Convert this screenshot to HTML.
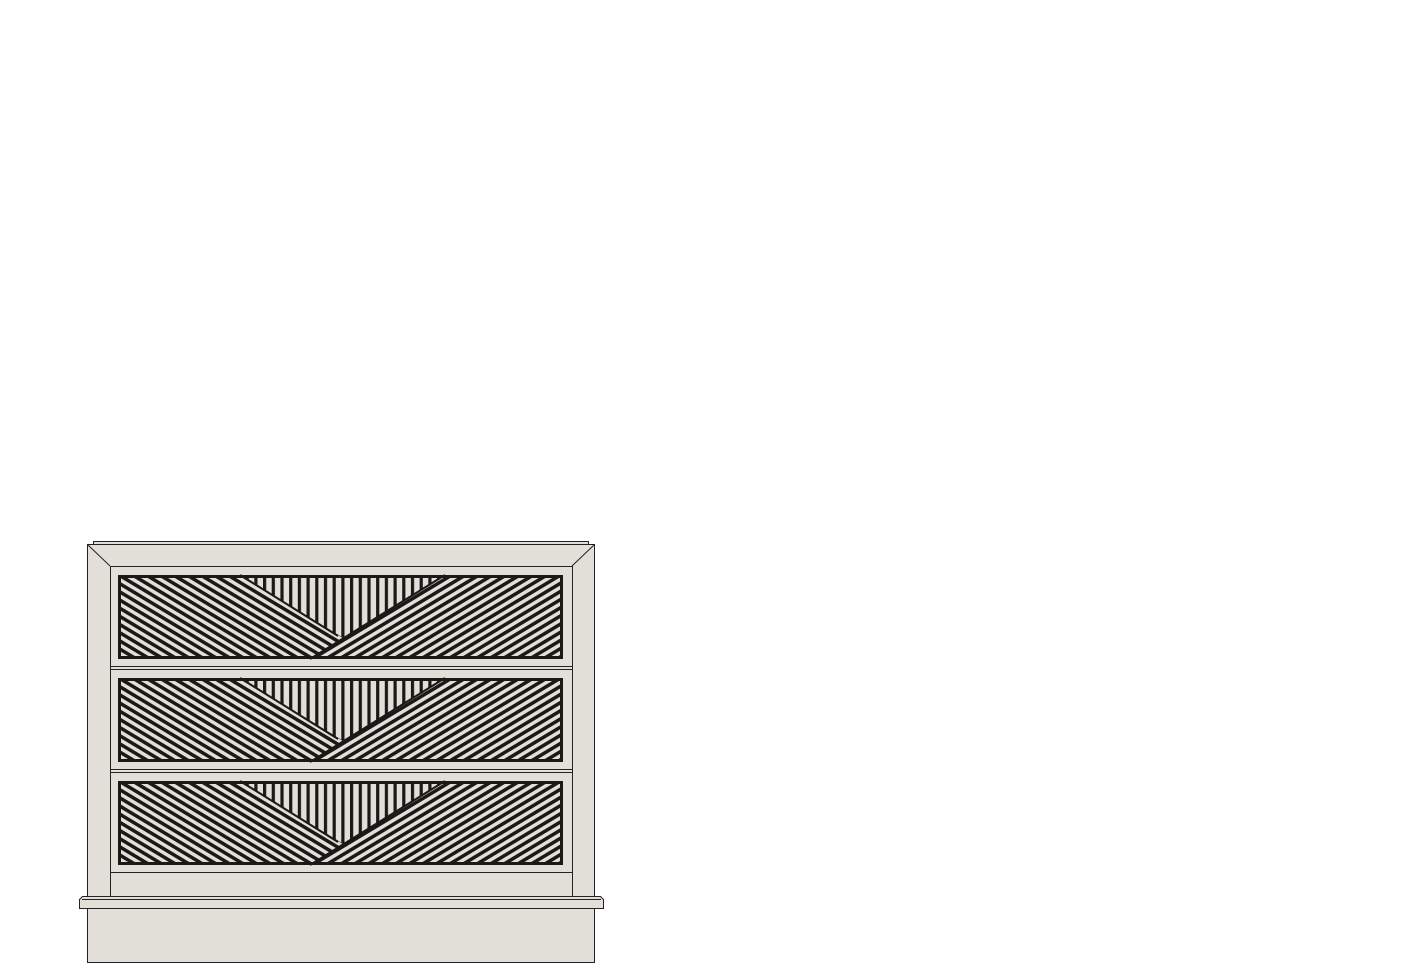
<!DOCTYPE html>
<html><head><style>html,body{margin:0;padding:0;background:#fff;width:1401px;height:971px;overflow:hidden}</style></head>
<body>
<svg width="1401" height="971" xmlns="http://www.w3.org/2000/svg">
<defs>
<pattern id="pv" width="8.7" height="10" patternUnits="userSpaceOnUse" x="2"><rect width="8.7" height="10" fill="#e2ded8"/><rect x="0" width="3.2" height="10" fill="#1a1917"/></pattern>
<pattern id="pl" width="10" height="7" patternUnits="userSpaceOnUse" patternTransform="rotate(31)"><rect width="10" height="7" fill="#e2ded8"/><rect y="0" width="10" height="3.5" fill="#1a1917"/></pattern>
<pattern id="pr" width="10" height="7" patternUnits="userSpaceOnUse" patternTransform="rotate(-31)"><rect width="10" height="7" fill="#e2ded8"/><rect y="0" width="10" height="3.5" fill="#1a1917"/></pattern>
<g id="panel">
<rect x="118" y="0" width="445" height="84" fill="url(#pv)"/>
<polygon points="118,0 240,0 378,84 118,84" fill="url(#pl)"/>
<polygon points="310,84 445,0 563,0 563,84" fill="url(#pr)"/>
<polyline points="240,0 338,61" fill="none" stroke="#1a1917" stroke-width="2"/>
<polyline points="310,84 445,0" fill="none" stroke="#1a1917" stroke-width="2"/>
<rect x="119.5" y="1.5" width="442" height="81" fill="none" stroke="#1a1917" stroke-width="3"/>
</g>
</defs>
<g stroke="#222" stroke-width="1" fill="#e2ded8">
<rect x="93.5" y="541.5" width="495" height="3"/>
<rect x="87.5" y="544.5" width="507" height="352"/>
<line x1="87.5" y1="544.5" x2="110" y2="566"/>
<line x1="594.5" y1="544.5" x2="572" y2="566"/>
<rect x="110.5" y="566.5" width="462" height="330"/>
<rect x="110.5" y="566.5" width="462" height="100"/>
<rect x="110.5" y="669.5" width="462" height="100"/>
<rect x="110.5" y="772.5" width="462" height="100"/>
<rect x="87.5" y="908.5" width="507" height="54"/>
<path d="M82.5 896.5 H600.5 L603.5 899.5 V908.5 H79.5 V899.5 Z"/>
<line x1="82" y1="899.5" x2="601" y2="899.5"/>
</g>
<use href="#panel" y="575"/>
<use href="#panel" y="678"/>
<use href="#panel" y="781"/>
</svg>
</body></html>
